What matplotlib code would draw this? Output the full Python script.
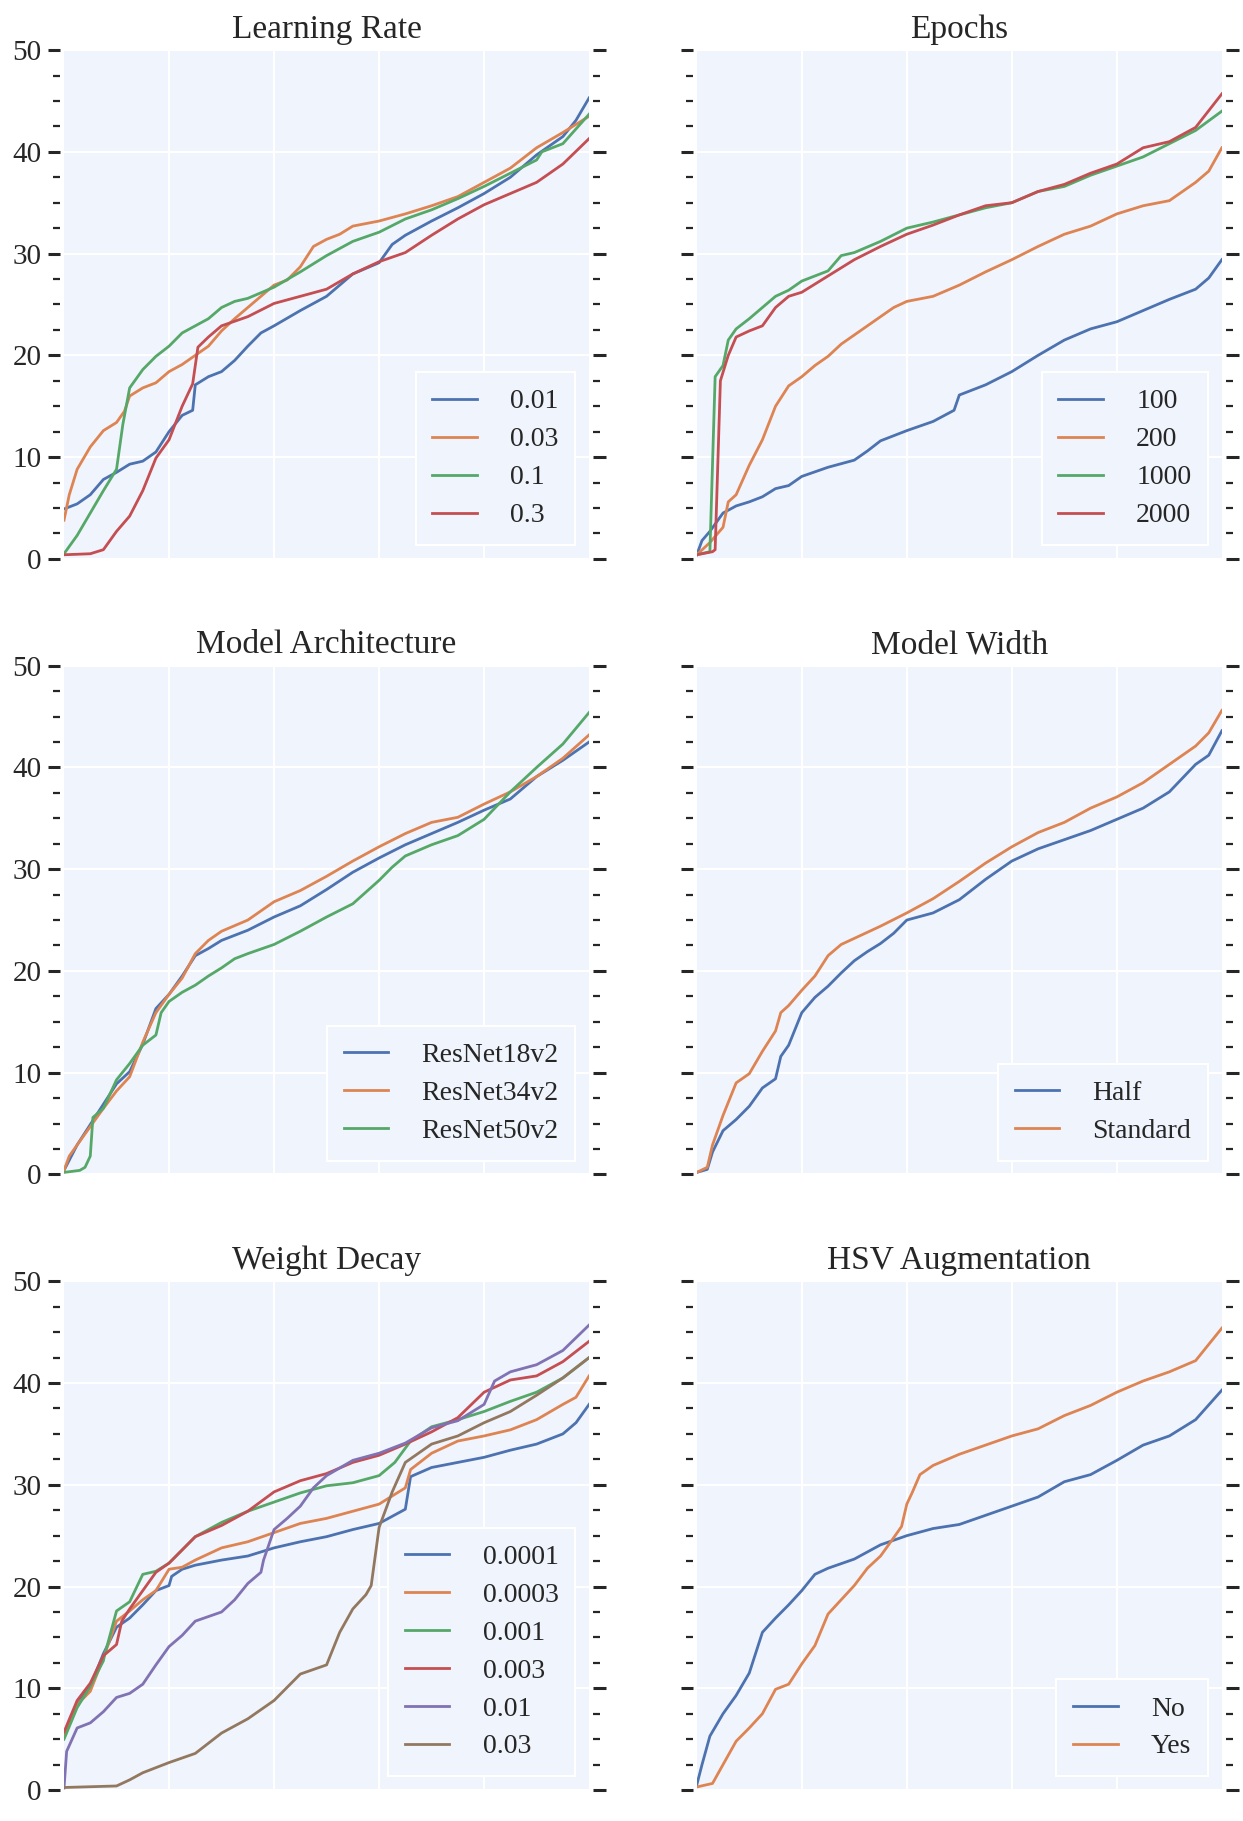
import matplotlib
matplotlib.use("Agg")
import matplotlib.pyplot as plt
from matplotlib.ticker import MultipleLocator

plt.rcParams["font.family"] = ["Liberation Serif", "DejaVu Serif"]

DEEP = ["#4C72B0", "#DD8452", "#55A868", "#C44E52", "#8172B3", "#937860"]
BG = "#f0f4fc"

# ---- Learning Rate (quantile, value) ----
lr_labels = ["0.01", "0.03", "0.1", "0.3"]
lr_q_001 = [0, .025, .05, .075, .1, .125, .15, .175, .2, .225, .245, .25, .275, .3, .325, .35, .375, .4, .45, .5, .55, .6, .625, .65, .7, .75, .8, .85, .9, .95, .975, 1]
lr_v_001 = [4.9, 5.4, 6.3, 7.8, 8.5, 9.3, 9.6, 10.5, 12.5, 14.1, 14.6, 17.1, 17.9, 18.4, 19.5, 20.9, 22.2, 22.9, 24.4, 25.8, 28.0, 29.1, 30.9, 31.8, 33.2, 34.5, 35.9, 37.5, 39.7, 41.5, 43.1, 45.3]
lr_q_003 = [0, .01, .025, .05, .075, .1, .115, .125, .15, .175, .2, .225, .25, .275, .3, .325, .35, .375, .4, .425, .45, .475, .5, .525, .55, .6, .65, .7, .75, .8, .85, .9, .95, 1]
lr_v_003 = [3.8, 6.3, 8.8, 11.0, 12.6, 13.4, 14.5, 16.0, 16.8, 17.3, 18.4, 19.1, 20.0, 20.9, 22.4, 23.6, 24.7, 25.8, 26.9, 27.4, 28.7, 30.7, 31.4, 31.9, 32.7, 33.2, 33.9, 34.7, 35.6, 37.0, 38.4, 40.4, 41.9, 43.5]
lr_q_01 = [0, .025, .05, .075, .1, .112, .125, .15, .175, .2, .225, .25, .275, .3, .325, .35, .4, .45, .5, .55, .6, .65, .7, .75, .8, .85, .9, .91, .95, 1]
lr_v_01 = [0.5, 2.3, 4.5, 6.7, 8.8, 13.2, 16.8, 18.6, 19.9, 20.9, 22.2, 22.9, 23.6, 24.7, 25.3, 25.6, 26.7, 28.2, 29.8, 31.2, 32.1, 33.4, 34.3, 35.4, 36.6, 37.9, 39.2, 40.0, 40.8, 43.7]
lr_q_03 = [0, .05, .075, .1, .125, .15, .175, .2, .225, .245, .255, .275, .3, .35, .4, .45, .5, .55, .6, .65, .7, .75, .8, .85, .9, .95, 1]
lr_v_03 = [0.4, 0.5, 0.9, 2.7, 4.2, 6.7, 9.9, 11.7, 15.0, 17.2, 20.8, 21.8, 22.9, 23.8, 25.1, 25.8, 26.5, 28.0, 29.2, 30.1, 31.8, 33.4, 34.8, 35.9, 37.0, 38.8, 41.3]

# ---- Epochs ----
ep_labels = ["100", "200", "1000", "2000"]
ep_q_100 = [0, .01, .025, .05, .075, .1, .125, .15, .175, .2, .25, .3, .325, .35, .4, .45, .49, .5, .55, .6, .65, .7, .75, .8, .85, .9, .95, .975, 1]
ep_v_100 = [0.4, 1.8, 2.7, 4.5, 5.2, 5.6, 6.1, 6.9, 7.2, 8.1, 9.0, 9.7, 10.6, 11.6, 12.6, 13.5, 14.6, 16.1, 17.1, 18.4, 20.0, 21.5, 22.6, 23.3, 24.4, 25.5, 26.5, 27.6, 29.4]
ep_q_200 = [0, .025, .05, .06, .075, .1, .125, .15, .175, .2, .225, .25, .275, .3, .325, .35, .375, .4, .45, .5, .55, .6, .65, .7, .75, .8, .85, .9, .95, .975, 1]
ep_v_200 = [0.4, 1.6, 3.1, 5.6, 6.3, 9.2, 11.7, 15.0, 17.0, 17.9, 19.0, 19.9, 21.1, 22.0, 22.9, 23.8, 24.7, 25.3, 25.8, 26.9, 28.2, 29.4, 30.7, 31.9, 32.7, 33.9, 34.7, 35.2, 37.0, 38.1, 40.4]
ep_q_1000 = [0, .025, .035, .05, .06, .075, .1, .125, .15, .175, .2, .25, .275, .3, .35, .4, .45, .5, .55, .6, .65, .7, .75, .8, .85, .9, .95, 1]
ep_v_1000 = [0.4, 0.7, 17.9, 19.0, 21.5, 22.6, 23.6, 24.7, 25.8, 26.4, 27.3, 28.3, 29.8, 30.1, 31.2, 32.5, 33.1, 33.8, 34.5, 35.0, 36.1, 36.6, 37.7, 38.6, 39.5, 40.8, 42.1, 44.0]
ep_q_2000 = [0, .03, .035, .045, .06, .075, .1, .125, .15, .175, .2, .25, .3, .35, .4, .45, .5, .55, .6, .65, .7, .75, .8, .85, .9, .95, 1]
ep_v_2000 = [0.4, 0.7, 0.9, 17.5, 20.0, 21.8, 22.4, 22.9, 24.7, 25.8, 26.2, 27.8, 29.4, 30.7, 31.9, 32.8, 33.8, 34.7, 35.0, 36.1, 36.8, 37.9, 38.8, 40.4, 41.0, 42.4, 45.7]

# ---- Model Architecture ----
ma_labels = ["ResNet18v2", "ResNet34v2", "ResNet50v2"]
ma_q_18 = [0, .01, .025, .05, .075, .1, .125, .15, .175, .2, .225, .25, .275, .3, .35, .4, .45, .5, .55, .6, .65, .7, .75, .8, .85, .9, .95, 1]
ma_v_18 = [0.4, 1.4, 2.9, 4.9, 6.9, 8.9, 10.1, 12.8, 16.3, 17.7, 19.5, 21.5, 22.2, 23.0, 24.0, 25.3, 26.4, 28.0, 29.7, 31.1, 32.4, 33.5, 34.6, 35.8, 36.9, 39.1, 40.7, 42.5]
ma_q_34 = [0, .01, .025, .05, .075, .1, .125, .15, .175, .2, .225, .25, .275, .3, .35, .4, .45, .5, .55, .6, .65, .7, .75, .8, .85, .9, .95, 1]
ma_v_34 = [0.4, 1.8, 2.9, 4.7, 6.5, 8.2, 9.6, 13.0, 15.9, 17.7, 19.3, 21.7, 23.0, 23.9, 25.0, 26.8, 27.9, 29.3, 30.8, 32.2, 33.5, 34.6, 35.1, 36.4, 37.6, 39.1, 40.9, 43.2]
ma_q_50 = [0, .03, .04, .05, .055, .075, .1, .125, .15, .175, .185, .2, .225, .25, .275, .3, .325, .35, .4, .45, .5, .55, .6, .625, .65, .7, .75, .8, .85, .9, .95, 1]
ma_v_50 = [0.2, 0.4, 0.7, 1.8, 5.6, 6.5, 9.3, 10.9, 12.7, 13.7, 15.9, 17.0, 17.9, 18.6, 19.5, 20.3, 21.2, 21.7, 22.6, 23.9, 25.3, 26.6, 28.9, 30.2, 31.3, 32.4, 33.3, 34.9, 37.6, 40.0, 42.3, 45.4]

# ---- Model Width ----
mw_labels = ["Half", "Standard"]
mw_q_half = [0, .02, .03, .05, .075, .1, .125, .15, .16, .175, .2, .225, .25, .275, .3, .325, .35, .375, .4, .45, .5, .55, .6, .65, .7, .75, .8, .85, .9, .95, .975, 1]
mw_v_half = [0.2, 0.5, 2.2, 4.3, 5.4, 6.7, 8.5, 9.4, 11.6, 12.7, 15.9, 17.4, 18.5, 19.8, 21.0, 21.9, 22.7, 23.7, 25.0, 25.7, 27.0, 29.0, 30.8, 32.0, 32.9, 33.8, 34.9, 36.0, 37.6, 40.3, 41.2, 43.6]
mw_q_std = [0, .02, .03, .05, .075, .1, .125, .15, .16, .175, .2, .225, .25, .275, .3, .35, .4, .45, .5, .55, .6, .65, .7, .75, .8, .85, .9, .95, .975, 1]
mw_v_std = [0.2, 0.7, 2.9, 5.8, 9.0, 9.9, 12.1, 14.1, 15.9, 16.6, 18.1, 19.5, 21.5, 22.6, 23.2, 24.4, 25.7, 27.1, 28.8, 30.6, 32.2, 33.6, 34.6, 36.0, 37.1, 38.5, 40.3, 42.1, 43.4, 45.6]

# ---- Weight Decay ----
wd_labels = ["0.0001", "0.0003", "0.001", "0.003", "0.01", "0.03"]
wd_q_1e4 = [0, .025, .05, .075, .1, .125, .15, .175, .2, .205, .225, .25, .3, .35, .4, .45, .5, .55, .6, .65, .66, .7, .75, .8, .85, .9, .95, .975, 1]
wd_v_1e4 = [5.3, 8.4, 10.2, 13.4, 16.0, 16.9, 18.2, 19.6, 20.1, 21.0, 21.7, 22.1, 22.6, 23.0, 23.8, 24.4, 24.9, 25.6, 26.2, 27.6, 30.8, 31.7, 32.2, 32.7, 33.4, 34.0, 35.0, 36.1, 37.9]
wd_q_3e4 = [0, .025, .05, .075, .1, .125, .15, .175, .2, .225, .25, .3, .35, .4, .45, .5, .55, .6, .65, .66, .7, .75, .8, .85, .9, .95, .975, 1]
wd_v_3e4 = [5.4, 8.4, 9.7, 13.0, 16.6, 17.6, 18.7, 19.6, 21.7, 21.9, 22.6, 23.8, 24.4, 25.3, 26.2, 26.7, 27.4, 28.1, 29.7, 31.5, 33.1, 34.3, 34.8, 35.4, 36.4, 37.9, 38.6, 40.7]
wd_q_1e3 = [0, .025, .05, .075, .077, .1, .125, .15, .175, .2, .25, .3, .35, .4, .45, .5, .55, .6, .63, .66, .7, .75, .8, .85, .9, .95, 1]
wd_v_1e3 = [5.0, 8.1, 10.2, 12.7, 13.2, 17.6, 18.5, 21.2, 21.5, 22.3, 24.9, 26.3, 27.4, 28.3, 29.2, 29.9, 30.2, 30.9, 32.2, 34.3, 35.7, 36.4, 37.2, 38.2, 39.1, 40.5, 42.5]
wd_q_3e3 = [0, .025, .05, .075, .1, .11, .125, .15, .175, .2, .25, .3, .35, .4, .45, .5, .55, .6, .65, .7, .75, .8, .85, .9, .95, 1]
wd_v_3e3 = [5.7, 8.8, 10.5, 13.2, 14.3, 16.6, 17.8, 19.6, 21.4, 22.3, 24.9, 26.0, 27.4, 29.3, 30.4, 31.1, 32.2, 32.9, 34.0, 35.2, 36.6, 39.1, 40.3, 40.7, 42.1, 44.1]
wd_q_1e2 = [0, .005, .025, .05, .075, .1, .125, .15, .175, .2, .225, .25, .3, .325, .35, .375, .38, .4, .425, .45, .475, .5, .55, .6, .65, .7, .75, .8, .82, .85, .9, .95, 1]
wd_v_1e2 = [0.2, 3.8, 6.1, 6.6, 7.7, 9.1, 9.5, 10.4, 12.3, 14.1, 15.2, 16.6, 17.5, 18.7, 20.3, 21.4, 22.6, 25.6, 26.7, 27.9, 29.7, 30.9, 32.4, 33.1, 34.1, 35.6, 36.3, 37.9, 40.2, 41.1, 41.8, 43.2, 45.7]
wd_q_3e2 = [0, .1, .125, .15, .2, .25, .3, .35, .4, .45, .5, .525, .55, .575, .585, .6, .625, .65, .7, .75, .8, .85, .9, .95, 1]
wd_v_3e2 = [0.25, 0.4, 1.0, 1.7, 2.7, 3.6, 5.6, 7.0, 8.8, 11.4, 12.3, 15.5, 17.8, 19.2, 20.1, 25.8, 29.3, 32.2, 34.0, 34.8, 36.1, 37.2, 38.8, 40.5, 42.5]

# ---- HSV Augmentation ----
hsv_labels = ["No", "Yes"]
hsv_q_no = [0, .01, .025, .05, .075, .1, .125, .15, .175, .2, .225, .25, .3, .35, .4, .45, .5, .55, .6, .65, .7, .75, .8, .85, .9, .95, 1]
hsv_v_no = [0.5, 2.5, 5.3, 7.5, 9.3, 11.5, 15.5, 16.9, 18.2, 19.6, 21.2, 21.8, 22.7, 24.1, 25.0, 25.7, 26.1, 27.0, 27.9, 28.8, 30.3, 31.0, 32.4, 33.9, 34.8, 36.4, 39.3]
hsv_q_yes = [0, .03, .05, .075, .1, .125, .15, .175, .2, .225, .25, .275, .3, .325, .35, .375, .39, .4, .41, .425, .45, .5, .55, .6, .65, .7, .75, .8, .85, .9, .95, 1]
hsv_v_yes = [0.3, 0.65, 2.5, 4.8, 6.1, 7.5, 9.9, 10.4, 12.4, 14.2, 17.3, 18.7, 20.1, 21.8, 23.0, 24.8, 25.9, 28.1, 29.2, 31.0, 31.9, 33.0, 33.9, 34.8, 35.5, 36.8, 37.8, 39.1, 40.2, 41.1, 42.2, 45.4]

panels = [
    ("Learning Rate", lr_labels, [(lr_q_001, lr_v_001), (lr_q_003, lr_v_003), (lr_q_01, lr_v_01), (lr_q_03, lr_v_03)]),
    ("Epochs", ep_labels, [(ep_q_100, ep_v_100), (ep_q_200, ep_v_200), (ep_q_1000, ep_v_1000), (ep_q_2000, ep_v_2000)]),
    ("Model Architecture", ma_labels, [(ma_q_18, ma_v_18), (ma_q_34, ma_v_34), (ma_q_50, ma_v_50)]),
    ("Model Width", mw_labels, [(mw_q_half, mw_v_half), (mw_q_std, mw_v_std)]),
    ("Weight Decay", wd_labels, [(wd_q_1e4, wd_v_1e4), (wd_q_3e4, wd_v_3e4), (wd_q_1e3, wd_v_1e3),
                                 (wd_q_3e3, wd_v_3e3), (wd_q_1e2, wd_v_1e2), (wd_q_3e2, wd_v_3e2)]),
    ("HSV Augmentation", hsv_labels, [(hsv_q_no, hsv_v_no), (hsv_q_yes, hsv_v_yes)]),
]

fig, axes = plt.subplots(3, 2, figsize=(12.43, 18.21), dpi=100)
fig.subplots_adjust(left=0.0515, right=0.983, bottom=0.017, top=0.9725, wspace=0.205, hspace=0.21)

for i, (ax, (title, labels, series)) in enumerate(zip(axes.flat, panels)):
    ax.set_facecolor(BG)
    for j, ((q, v), lab) in enumerate(zip(series, labels)):
        ax.plot(q, v, color=DEEP[j], lw=2.0, label=lab)
    ax.set_xlim(0, 1)
    ax.set_ylim(0, 50)
    ax.set_xticks([0.2, 0.4, 0.6, 0.8])
    ax.set_yticks([0, 10, 20, 30, 40, 50])
    ax.yaxis.set_minor_locator(MultipleLocator(2.5))
    ax.grid(True, which="major", color="white", lw=1.5)
    ax.set_axisbelow(True)
    for s in ax.spines.values():
        s.set_visible(False)
    # small gap between ticks and the plotting area
    ax.spines["left"].set_position(("outward", 3))
    ax.spines["right"].set_position(("outward", 3))
    ax.tick_params(axis="x", length=0, labelbottom=False)
    ax.tick_params(axis="y", which="major", left=True, right=True, direction="out",
                   length=9, width=2.2, color="#262626", labelsize=21, labelcolor="#262626", pad=4)
    ax.tick_params(axis="y", which="minor", left=True, right=True, direction="out",
                   length=5, width=1.6, color="#262626")
    if i % 2 == 1:
        ax.tick_params(axis="y", labelleft=False)
    ax.set_title(title, fontsize=24, color="#262626", pad=9)
    leg = ax.legend(loc="lower right", fontsize=20, frameon=True, facecolor=BG, edgecolor="white",
                    framealpha=1, fancybox=False, handlelength=1.6, handletextpad=1.2,
                    labelspacing=0.45, borderpad=0.6, borderaxespad=0.5)
    leg.get_frame().set_linewidth(1.5)
    for t in leg.get_texts():
        t.set_color("#262626")

fig.savefig("out.png", dpi=100)
